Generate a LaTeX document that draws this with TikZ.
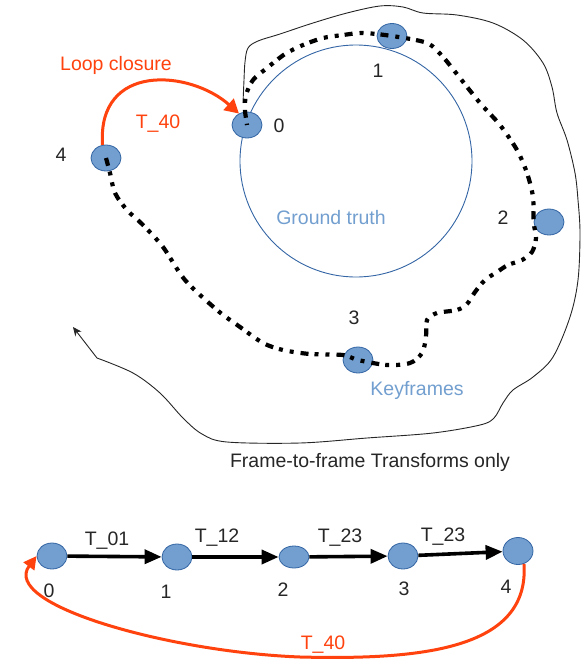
\documentclass[tikz,border=0pt]{standalone}
\usepackage{fontspec}
\setmainfont{Liberation Sans}
\usetikzlibrary{arrows.meta,shapes.geometric}
\definecolor{kfill}{HTML}{729FCF}
\definecolor{kline}{HTML}{3465A4}
\definecolor{lcred}{HTML}{FF420E}
\begin{document}
\begin{tikzpicture}[x=1pt,y=-1pt,
  kf/.style={ellipse,draw=kline,fill=kfill,line width=0.8pt,inner sep=0pt,minimum width=30pt,minimum height=26pt},
  txt/.style={font=\fontsize{19.5}{23}\selectfont,inner sep=0pt,text=black!85},
  bluetxt/.style={txt,text=kfill},
  redtxt/.style={txt,text=lcred},
  traj/.style={line width=4.2pt,dash pattern=on 8pt off 6pt on 4pt off 7pt on 4pt off 7pt},
  chainarrow/.style={line width=3.6pt,-{Triangle[length=17pt,width=14pt]}},
  redarrow/.style={draw=lcred,line width=3pt},
  outline/.style={line width=0.9pt,black!85}
]
\useasboundingbox (0,0) rectangle (582,665);

% outer frame-to-frame curve
\coordinate (ostart) at (243,103);
\coordinate (okink) at (97,358);
\coordinate (oend) at (73,327);
\draw[outline,-{Stealth[length=9pt,width=8pt]}] plot[smooth,tension=0.55] coordinates {
 (ostart) (244,80) (245,62) (248,48) (258,41) (280,34) (313,23) (347,13) (380,6) (403,7) (423,13)
 (457,15) (493,23) (523,40) (543,63) (552,87) (557,113) (567,140) (575,173) (578,200) (580,233)
 (578,280) (570,317) (553,357) (533,377) (513,390) (503,403) (494,418) (480,425) (433,433) (367,438)
 (300,443) (227,442) (202,434) (183,418) (160,393) (133,373) (okink)} -- (oend);

% ground truth
\node[circle,draw=kline,line width=0.9pt,minimum size=232pt,inner sep=0pt] (gt) at (356,161) {};
\node[bluetxt] (gtl) at (331,218) {Ground truth};

% top keyframes
\node[kf] (t0) at (247,125) {};
\node[kf,minimum height=25pt] (t1) at (392,36) {};
\node[kf] (t2) at (549,222) {};
\node[kf] (t3) at (358,360) {};
\node[kf] (t4) at (106,158) {};

\node[txt] (l0) at (279,126) {0};
\node[txt] (l1) at (378,71) {1};
\node[txt] (l2) at (503,218) {2};
\node[txt] (l3) at (354,318) {3};
\node[txt] (l4) at (61,155) {4};

% loop closure arrow
\draw[redarrow,-{Triangle[length=14pt,width=15pt]}] (t4.105) .. controls (97,62) and (190,70) .. (t0.125);
\node[redtxt] (lc) at (116,65) {Loop closure};
\node[redtxt] (t40a) at (158,124) {T\_40};

% trajectory
\draw[traj] plot[smooth,tension=0.5] coordinates {
 (t4) (110,173) (115,193) (127,210) (143,225) (163,247) (185,280) (217,310) (240,327) (263,343)
 (283,350) (310,354) (343,355) (t3) (387,365) (410,363) (422,353) (426,337) (427,320) (437,313)
 (457,310) (467,304) (475,292) (485,280) (497,272) (508,265) (522,260) (532,252) (536,238)
 (t2.west) (533,197) (527,173) (517,150) (500,125) (480,103) (460,78) (443,57) (427,43) (t1)
 (363,33) (343,35) (323,38) (303,45) (285,54) (267,68) (253,80) (246,95) (245,110) (t0)};

\node[bluetxt] (kfl) at (417,390) {Keyframes};
\node[txt] (ffl) at (370,462) {Frame-to-frame Transforms only};

% bottom chain
\node[kf] (c0) at (52,556) {};
\node[kf] (c1) at (177,557) {};
\node[kf,minimum height=22pt] (c2) at (294,557) {};
\node[kf] (c3) at (403,556) {};
\node[kf,minimum height=27pt] (c4) at (518,551) {};

\draw[chainarrow] (c0) -- (c1);
\draw[chainarrow] (c1) -- (c2);
\draw[chainarrow] (c2) -- (c3);
\draw[chainarrow] (c3) -- (c4);

\node[txt] (e01) at (107,541) {T\_01};
\node[txt] (e12) at (217,538) {T\_12};
\node[txt] (e23) at (340,538) {T\_23};
\node[txt] (e34) at (443,537) {T\_23};

\node[txt] (b0) at (49,591) {0};
\node[txt] (b1) at (166,592) {1};
\node[txt] (b2) at (283,590) {2};
\node[txt] (b3) at (404,589) {3};
\node[txt] (b4) at (506,587) {4};

\draw[redarrow,-{Triangle[length=13pt,width=13pt]}] (c4.-65) .. controls (530,650) and (420,660) .. (300,657)
  .. controls (170,652) and (0,605) .. (c0.west);
\node[redtxt] (t40b) at (323,645) {T\_40};
\end{tikzpicture}
\end{document}
